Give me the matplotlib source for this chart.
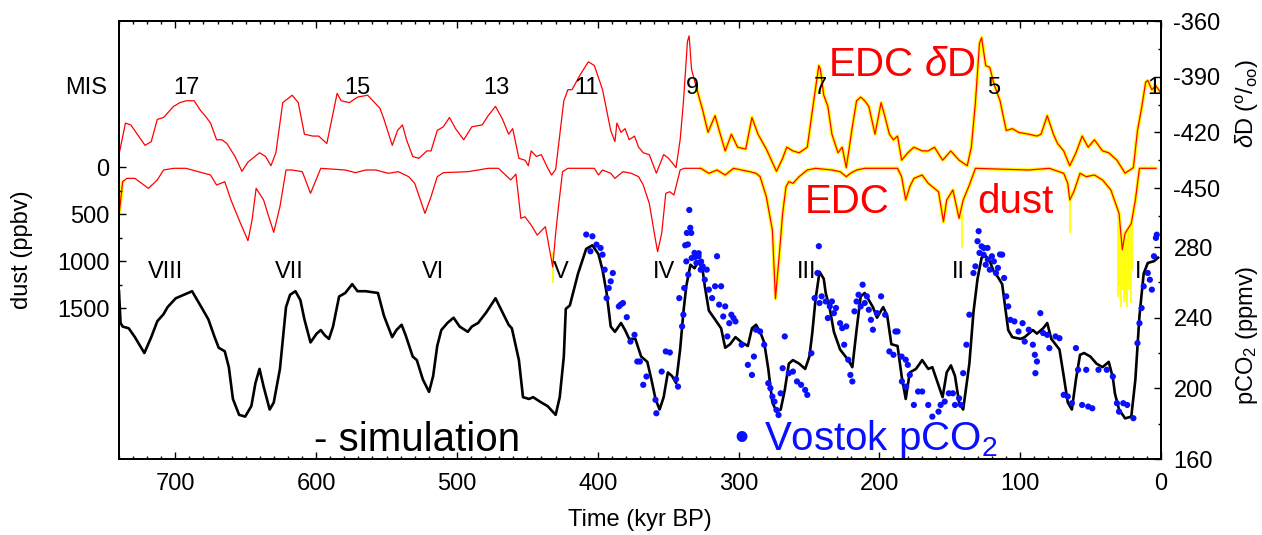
import matplotlib
matplotlib.use("Agg")
import matplotlib.pyplot as plt
import matplotlib.transforms as mtransforms
from matplotlib.ticker import FixedLocator, MultipleLocator
import numpy as np

plt.rcParams["font.family"] = ["Liberation Sans", "DejaVu Sans"]
plt.rcParams["mathtext.fontset"] = "custom"
plt.rcParams["mathtext.rm"] = "Liberation Sans"
plt.rcParams["mathtext.it"] = "Liberation Sans:italic"
plt.rcParams["axes.unicode_minus"] = False

RED = "#ff0000"
YELLOW = "#ffff00"
BLUE = "#0a10ff"

# EDC deuterium (per mil), age in kyr BP
dD_age = [740.3, 735.4, 731.6, 721.5, 717.1, 712.8, 708.4, 701.2, 696.8, 692.5, 686.6, 682.3,
          677.9, 675.0, 670.7, 666.9, 663.4, 657.6, 652.7, 648.4, 640.2, 635.9, 632.1, 628.6,
          623.7, 617.0, 612.7, 608.3, 602.5, 598.2, 592.4, 585.1, 582.2, 576.4, 570.6, 563.4,
          554.7, 551.8, 545.9, 542.2, 538.7, 535.8, 531.4, 527.1, 521.3, 518.4, 514.0, 509.7,
          505.3, 501.0, 495.2, 489.4, 482.1, 477.8, 472.6, 467.6, 463.3, 460.4, 456.0, 451.7,
          449.3, 447.3, 443.6, 440.1, 435.7, 432.8, 429.9, 424.1, 421.2, 418.3, 412.5, 406.7,
          402.4, 396.6, 390.8, 387.8, 386.4, 383.5, 380.6, 377.7, 373.9, 371.0, 367.7, 363.4,
          358.4, 353.2, 349.7, 344.4, 341.5, 339.2, 336.3, 335.1, 333.4, 329.9, 325.5, 321.7,
          316.7, 313.0, 309.5, 305.1, 300.7, 294.9, 290.5, 286.2, 280.3, 273.1, 268.7, 265.8,
          261.4, 257.0, 251.2, 246.8, 243.0, 241.9, 239.5, 236.6, 233.7, 229.4, 226.4, 223.5,
          219.2, 216.2, 213.3, 210.4, 207.5, 203.1, 198.8, 195.9, 192.9, 190.0, 187.1, 184.2,
          179.8, 175.5, 169.6, 165.3, 160.9, 155.1, 149.3, 143.4, 137.6, 134.7, 131.8, 128.9,
          127.4, 124.5, 121.6, 118.6, 114.3, 109.9, 105.6, 101.2, 93.9, 88.1, 85.2, 80.8,
          76.4, 73.5, 69.1, 64.8, 60.4, 56.0, 51.7, 47.3, 41.5, 37.1, 31.3, 25.5,
          19.6, 16.7, 13.8, 10.9, 9.4, 6.5, 3.6, 0.7]
dD_val = [-433, -415, -416, -427, -425, -413, -412, -406, -404, -403, -403, -408,
          -412, -415, -424, -424, -426, -433, -441, -436, -431, -433, -438, -431,
          -404, -400, -404, -421, -422, -422, -426, -399, -403, -404, -401, -400,
          -407, -413, -427, -419, -416, -424, -433, -434, -430, -430, -419, -417,
          -412, -418, -424, -417, -416, -411, -406, -413, -421, -418, -434, -435,
          -438, -430, -433, -432, -439, -443, -440, -403, -397, -397, -389, -382,
          -384, -397, -419, -425, -415, -420, -418, -424, -422, -428, -431, -432,
          -442, -432, -434, -439, -424, -404, -371, -368, -386, -396, -408, -420,
          -411, -421, -430, -421, -428, -429, -412, -421, -429, -441, -434, -428,
          -430, -431, -428, -404, -384, -386, -400, -406, -421, -431, -428, -439,
          -417, -403, -401, -403, -406, -421, -404, -412, -421, -424, -422, -435,
          -431, -428, -430, -430, -428, -435, -430, -435, -438, -428, -404, -372,
          -369, -384, -385, -394, -403, -419, -418, -420, -421, -422, -421, -411,
          -421, -426, -430, -438, -431, -422, -428, -424, -430, -431, -435, -442,
          -439, -419, -407, -393, -392, -397, -395, -398]

# EDC dust (ppbv)
dust_age = [739.7, 737.4, 734.5, 728.7, 719.1, 712.8, 708.4, 701.2, 692.5, 683.7, 675.0, 670.7,
            664.9, 660.5, 654.7, 648.4, 645.5, 642.6, 637.3, 634.4, 630.1, 625.7, 621.4, 617.0,
            609.8, 604.0, 596.7, 579.3, 572.1, 564.8, 557.6, 548.8, 541.6, 534.3, 530.0, 522.7,
            518.4, 514.0, 509.7, 492.3, 477.8, 470.5, 461.8, 458.1, 454.6, 451.7, 447.3, 443.0,
            437.2, 433.7, 432.0, 429.9, 427.9, 425.0, 421.2, 402.4, 399.5, 396.6, 390.8, 387.8,
            382.1, 376.2, 371.0, 367.7, 363.4, 359.0, 357.5, 354.6, 351.7, 348.8, 345.9, 341.5,
            338.6, 326.9, 321.1, 315.3, 309.5, 303.6, 297.8, 292.0, 287.6, 284.7, 280.3, 276.0,
            273.8, 271.0, 268.7, 266.3, 264.3, 261.4, 257.0, 251.2, 245.4, 233.7, 227.9, 223.5,
            220.6, 216.2, 210.4, 187.1, 184.2, 181.3, 178.4, 175.5, 169.6, 165.3, 162.4, 158.0,
            154.5, 152.2, 147.8, 143.4, 140.5, 136.1, 131.8, 93.9, 79.3, 69.1, 66.2, 64.8,
            61.9, 57.5, 53.1, 47.3, 41.5, 35.6, 29.8, 27.5, 25.5, 21.1, 18.2, 15.3, 3.6]
dust_val = [475, 156, 121, 121, 227, 138, 32, 14, 14, 50, 85, 192,
            156, 351, 564, 784, 564, 227, 351, 493, 695, 422, 32, 32,
            50, 280, 14, 32, 60, 32, 32, 67, 50, 103, 174, 493,
            316, 103, 60, 50, 14, 14, 138, 75, 546, 529, 617, 724,
            635, 919, 1064, 706, 422, 50, 14, 14, 85, 32, 67, 121,
            50, 67, 103, 192, 387, 777, 901, 706, 280, 263, 298, 32,
            14, 14, 67, 32, 85, 14, 32, 50, 67, 103, 316, 670,
            1400, 919, 493, 209, 156, 174, 103, 32, 14, 32, 50, 103,
            67, 32, 14, 14, 103, 351, 209, 121, 85, 174, 209, 263,
            582, 351, 245, 546, 351, 192, 14, 32, 14, 67, 174, 351,
            263, 67, 103, 85, 138, 245, 493, 880, 706, 600, 351, 14, 14]

# high-resolution dust excursions (yellow), low / high ends
spike_age = [432.0, 141.0, 64.5, 30.5, 29.5, 28.5, 27.5, 26.5, 25.5, 24.5, 23.5, 22.5, 21.5, 20.5]
spike_lo = [900, 500, 300, 500, 600, 700, 800, 800, 750, 750, 700, 650, 600, 500]
spike_hi = [1234, 860, 700, 1380, 1250, 1490, 1300, 1440, 1350, 1490, 1200, 1300, 1450, 1100]

# simulated pCO2 (ppmv)
sim_age = [740.0, 738.9, 737.4, 733.1, 728.7, 722.0, 717.1, 712.8, 708.4, 705.5, 699.7, 693.9,
           688.1, 683.7, 680.8, 676.5, 672.1, 669.2, 664.9, 662.0, 659.1, 654.7, 650.4, 646.0,
           643.1, 640.2, 637.3, 633.0, 630.1, 625.7, 621.4, 618.5, 614.7, 611.2, 608.3, 604.0,
           599.6, 596.7, 593.8, 590.9, 588.0, 583.7, 579.3, 574.4, 570.6, 564.8, 556.1, 551.8,
           546.0, 543.0, 539.3, 536.4, 531.4, 528.5, 524.2, 519.8, 516.9, 514.0, 511.1, 506.8,
           502.4, 498.1, 492.3, 489.4, 485.0, 479.2, 472.6, 467.6, 463.3, 461.0, 456.0, 453.1,
           448.8, 445.9, 440.1, 435.7, 429.9, 427.0, 424.1, 422.7, 419.8, 416.9, 414.0, 408.2,
           403.8, 399.5, 396.6, 393.7, 390.8, 387.8, 383.5, 380.6, 377.7, 373.3, 369.2, 364.8,
           361.9, 359.0, 356.1, 353.2, 350.2, 347.3, 344.4, 341.5, 339.2, 337.1, 334.2, 331.3,
           328.4, 325.5, 324.0, 321.1, 316.7, 312.4, 309.5, 306.0, 302.2, 297.8, 293.4, 290.5,
           287.6, 284.7, 281.8, 278.9, 276.0, 273.1, 270.1, 267.2, 264.3, 261.4, 257.0, 252.7,
           249.7, 247.7, 245.4, 242.5, 239.5, 238.1, 235.2, 232.3, 227.9, 222.1, 219.2, 216.2,
           213.3, 210.4, 207.5, 204.6, 201.7, 197.3, 194.4, 191.5, 187.1, 184.2, 181.3, 178.4,
           174.0, 169.6, 165.3, 162.4, 159.4, 155.1, 152.2, 149.2, 146.3, 143.4, 140.5, 136.1,
           133.2, 130.3, 127.4, 124.5, 121.6, 118.7, 115.8, 112.8, 108.5, 105.6, 99.7, 96.8,
           93.9, 91.0, 88.1, 83.7, 80.8, 77.9, 72.1, 69.1, 66.2, 63.3, 60.4, 57.5,
           54.6, 50.2, 45.8, 41.5, 37.1, 34.2, 32.7, 29.8, 25.5, 21.1, 18.2, 15.3,
           12.3, 9.4, 5.0, 2.1]
sim_val = [255, 237, 235, 234, 229, 220, 229, 238, 242, 246, 251, 253,
           255, 249, 245, 239, 229, 223, 221, 212, 194, 185, 184, 190,
           203, 211, 201, 188, 192, 211, 246, 253, 255, 250, 239, 226,
           231, 233, 230, 228, 235, 252, 254, 259, 255, 255, 254, 241,
           229, 233, 236, 230, 218, 216, 205, 198, 207, 224, 233, 237,
           240, 235, 232, 235, 237, 243, 251, 243, 236, 234, 216, 195,
           194, 195, 192, 190, 185, 195, 218, 245, 247, 256, 265, 279,
           281, 276, 267, 254, 235, 232, 237, 233, 228, 228, 218, 215,
           205, 194, 188, 195, 209, 207, 203, 222, 243, 258, 270, 268,
           272, 267, 258, 244, 239, 234, 223, 225, 229, 226, 224, 234,
           236, 232, 226, 211, 192, 187, 188, 199, 214, 216, 214, 211,
           218, 231, 250, 266, 262, 254, 245, 232, 222, 216, 212, 233,
           252, 254, 250, 246, 240, 246, 241, 225, 224, 207, 194, 209,
           211, 216, 211, 212, 205, 195, 209, 213, 207, 192, 188, 214,
           243, 262, 274, 275, 272, 266, 263, 259, 233, 229, 228, 229,
           231, 233, 231, 234, 237, 228, 222, 207, 192, 188, 205, 219,
           220, 218, 214, 212, 215, 206, 197, 188, 183, 184, 205, 241,
           265, 271, 272, 274]

# Vostok pCO2 measurements (ppmv)
vos_age = [408.2, 405.2, 403.8, 400.9, 398.0, 396.6, 395.1, 393.7, 392.2, 390.8, 389.3, 385.0,
           383.7, 382.1, 379.4, 376.8, 373.9, 371.9, 370.1, 367.7, 365.4, 359.0, 358.4, 354.6,
           351.7, 348.8, 344.4, 343.0, 342.1, 340.1, 339.2, 338.6, 337.1, 335.7, 333.3, 331.3,
           329.9, 328.4, 326.9, 325.5, 324.0, 322.6, 321.1, 318.8, 316.7, 315.3, 313.8, 312.4,
           310.9, 309.5, 308.0, 306.6, 305.1, 303.6, 302.2, 297.8, 293.4, 290.5, 289.1, 287.6,
           284.7, 281.8, 278.9, 277.4, 276.0, 274.5, 273.1, 271.6, 270.1, 268.7, 267.2, 264.3,
           261.4, 258.5, 255.6, 252.7, 251.2, 248.3, 246.0, 244.0, 243.0, 242.5, 241.0, 238.1,
           236.6, 235.2, 233.7, 232.3, 230.8, 227.9, 226.4, 225.0, 223.5, 222.1, 220.6, 219.2,
           217.7, 216.2, 214.8, 213.3, 211.9, 210.4, 208.9, 207.5, 206.0, 204.6, 201.7, 198.8,
           195.9, 192.9, 190.0, 188.6, 187.1, 184.2, 184.0, 181.3, 181.0, 179.8, 178.4, 175.5,
           172.5, 169.6, 165.3, 162.4, 158.0, 156.5, 153.6, 150.7, 147.8, 146.3, 143.4, 142.0,
           140.5, 138.2, 136.1, 133.2, 131.8, 130.3, 129.5, 128.9, 127.4, 126.0, 124.5, 123.0,
           121.6, 120.1, 118.7, 117.2, 115.8, 114.3, 112.8, 111.4, 109.9, 108.5, 107.0, 104.1,
           101.2, 98.3, 96.8, 93.9, 91.0, 89.6, 88.1, 89.2, 85.7, 83.7, 80.8, 79.3,
           74.9, 72.1, 69.1, 66.2, 63.3, 60.4, 58.9, 56.0, 53.1, 51.7, 48.8, 44.4,
           38.5, 34.2, 31.3, 29.8, 26.8, 24.0, 19.6, 16.7, 15.3, 13.8, 12.3, 9.4,
           7.9, 6.5, 5.0, 3.6, 3.0,
           335.0, 334.3, 333.6, 336.7, 337.9, 336.0, 330.7, 328.3, 326.6, 125.8, 123.2]
vos_val = [287.1, 277.6, 286.1, 281.4, 279.5, 275.7, 267.2, 251.1, 256.8, 260.6, 265.3, 246.4,
           247.4, 248.3, 240.3, 226.5, 230.3, 215.2, 215.2, 202.0, 206.7, 193.5, 185.9, 209.5,
           220.9, 220.3, 205.2, 201.0, 251.1, 235.1, 241.7, 256.8, 271.9, 264.4, 273.8, 276.7,
           271.0, 274.8, 267.2, 269.1, 261.5, 267.2, 255.9, 251.1, 257.8, 274.8, 247.4, 257.8,
           240.7, 246.4, 229.4, 236.9, 241.7, 239.8, 237.9, 224.7, 213.3, 207.6, 218.0, 233.2,
           232.2, 224.7, 202.9, 200.1, 195.4, 192.5, 187.8, 184.9, 197.2, 211.4, 229.4, 208.6,
           209.5, 203.9, 202.0, 199.1, 196.3, 219.9, 251.1, 265.3, 280.5, 248.3, 252.1, 249.2,
           239.8, 246.4, 249.2, 242.6, 245.5, 236.9, 234.1, 224.7, 235.1, 216.2, 207.6, 203.9,
           243.6, 249.2, 253.0, 246.4, 258.7, 248.3, 252.1, 244.5, 238.8, 233.2, 242.6, 252.1,
           241.7, 220.9, 219.0, 232.2, 232.2, 218.0, 203.9, 216.2, 201.0, 213.3, 207.6, 190.6,
           198.2, 198.2, 190.6, 184.0, 186.8, 190.6, 192.5, 197.2, 197.2, 190.6, 194.4, 190.6,
           208.6, 224.7, 241.7, 265.3, 269.1, 283.3, 289.0, 276.7, 280.4, 275.7, 270.0, 272.9,
           267.2, 274.8, 271.9, 265.3, 268.2, 275.8, 275.7, 262.5, 252.1, 246.4, 238.8, 237.9,
           232.2, 236.9, 226.5, 233.2, 224.7, 219.0, 215.2, 208.6, 242.6, 231.3, 230.3, 222.8,
           229.4, 228.4, 196.3, 195.4, 191.6, 222.8, 210.5, 190.6, 210.5, 189.7, 188.7, 210.5,
           210.5, 206.7, 191.6, 186.8, 191.6, 190.6, 183.1, 225.6, 236.9, 245.5, 257.8, 265.3,
           261.5, 255.9, 274.8, 285.2, 287.0,
           301.0, 290.9, 288.0, 288.0, 281.0, 281.5, 274.4, 276.5, 271.8, 279.5, 279.5]

mis_age = [692, 571, 472, 408, 333, 242, 119, 5]
mis_lab = ["17", "15", "13", "11", "9", "7", "5", "1"]
term_age = [707, 619, 517, 426, 353, 252, 144, 16]
term_lab = ["VIII", "VII", "VI", "V", "IV", "III", "II", "I"]

W, H = 1262, 535
fig = plt.figure(figsize=(W / 100, H / 100), dpi=100)
ax = fig.add_axes([119 / W, 1 - 459 / H, (1161 - 119) / W, (459 - 21) / H])
ax_d = ax.twinx()
ax_c = ax.twinx()

# dust (left axis, downward)
da = np.array(dust_age)
dv = np.array(dust_val, dtype=float)
halo = (da <= 335) | (da >= 736)
ax.plot(da, np.where(halo, dv, np.nan), color=YELLOW, lw=2.6, zorder=1)
ax.vlines(spike_age, spike_lo, spike_hi, color=YELLOW, lw=1.3, zorder=1)
ax.plot(da, dv, color=RED, lw=0.9, zorder=2)
ax.set_ylim(3106, -1553)

# deuterium (right axis, top)
ta = np.array(dD_age)
tv = np.array(dD_val, dtype=float)
halo = (ta <= 330) | (ta >= 736)
ax_d.plot(ta, np.where(halo, tv, np.nan), color=YELLOW, lw=2.6, zorder=1)
ax_d.plot(ta, tv, color=RED, lw=0.9, zorder=2)
ax_d.set_ylim(-596, -360)

# pCO2 (right axis, bottom)
ax_c.plot(sim_age, sim_val, color="black", lw=1.9, zorder=2)
ax_c.scatter(vos_age, vos_val, s=20, color=BLUE, edgecolors="none", zorder=3)
ax_c.set_ylim(160, 408)

ax.set_xlim(740, 0)
ax.xaxis.set_major_locator(MultipleLocator(100))
ax.xaxis.set_minor_locator(MultipleLocator(10))
ax.tick_params(axis="x", which="both", direction="in", top=True, bottom=True,
               labelsize=17, pad=10)
ax.tick_params(axis="x", which="major", length=5, width=1)
ax.tick_params(axis="x", which="minor", length=2.5, width=1)

ax.yaxis.set_major_locator(FixedLocator([0, 500, 1000, 1500]))
ax.yaxis.set_minor_locator(FixedLocator([250, 750, 1250]))
ax.tick_params(axis="y", which="both", direction="in", left=True, right=False,
               labelleft=True, labelright=False, labelsize=17, pad=7)

ax_d.yaxis.set_major_locator(FixedLocator([-450, -420, -390, -360]))
ax_d.yaxis.set_minor_locator(FixedLocator([-465, -435, -405, -375]))
ax_c.yaxis.set_major_locator(FixedLocator([160, 200, 240, 280]))
ax_c.yaxis.set_minor_locator(FixedLocator([180, 220, 260]))
for a in (ax_d, ax_c):
    a.tick_params(axis="y", which="both", direction="in", left=False, right=True,
                  labelleft=False, labelright=True, labelsize=17, pad=9)

for a in (ax, ax_d, ax_c):
    a.tick_params(axis="y", which="major", length=5, width=1)
    a.tick_params(axis="y", which="minor", length=2.5, width=1)
    for s in a.spines.values():
        s.set_linewidth(1.2)

tr = mtransforms.blended_transform_factory(ax_c.transData, ax_c.transAxes)
for x, lab in zip(mis_age, mis_lab):
    ax_c.text(x, 0.847, lab, transform=tr, ha="center", va="center", fontsize=17, zorder=5)
for x, lab in zip(term_age, term_lab):
    ax_c.text(x, 0.427, lab, transform=tr, ha="center", va="center", fontsize=17, zorder=5)
ax_c.text(-0.032, 0.847, "MIS", transform=ax_c.transAxes, ha="center", va="center", fontsize=17)

ax_c.text(236.7, 0.874, r"EDC $\delta$D", transform=tr, ha="left", va="baseline",
          fontsize=29, color=RED, zorder=5)
ax_c.text(252.7, 0.5616, "EDC", transform=tr, ha="left", va="baseline",
          fontsize=29, color=RED, zorder=5)
ax_c.text(130.3, 0.5616, "dust", transform=tr, ha="left", va="baseline",
          fontsize=29, color=RED, zorder=5)
ax_c.text(601.3, 0.019, "- simulation", transform=tr, ha="left", va="baseline",
          fontsize=29, color="black", zorder=5)
ax_c.text(297.8, 0.021, "\u2022", transform=tr, ha="center", va="baseline",
          fontsize=29, color=BLUE, zorder=5)
ax_c.text(281.8, 0.021, r"Vostok pCO$_2$", transform=tr, ha="left", va="baseline",
          fontsize=29, color=BLUE, zorder=5)

fig.text(22 / W, 1 - 250 / H, "dust (ppbv)", rotation=90, ha="center", va="center", fontsize=17)
fig.text(1247 / W, 1 - 103 / H, r"$\delta$D ($^\mathrm{o}/_\mathrm{oo}$)", rotation=90,
         ha="center", va="center", fontsize=17)
fig.text(1247 / W, 1 - 335 / H, r"pCO$_2$ (ppmv)", rotation=90, ha="center", va="center",
         fontsize=17)
fig.text(640 / W, 1 - 520 / H, "Time (kyr BP)", ha="center", va="center", fontsize=17)

fig.savefig("out.png", dpi=100)
